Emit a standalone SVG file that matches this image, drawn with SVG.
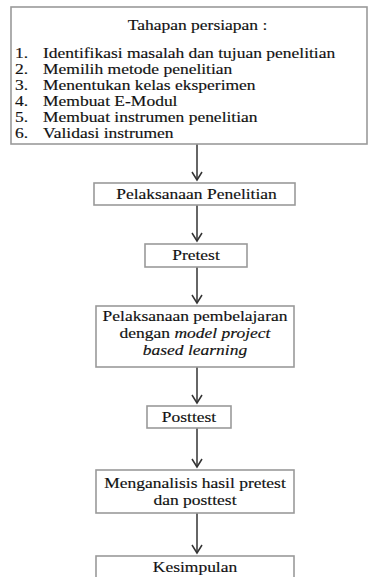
<svg xmlns="http://www.w3.org/2000/svg" width="373" height="577" viewBox="0 0 373 577">
<style>
.box{fill:#fff;stroke:#9a9a9a;stroke-width:1.6}
.t{font-family:"Liberation Serif","Times New Roman",serif;font-size:14px;fill:#111;stroke:#111;stroke-width:0.15}
.c{text-anchor:middle}
.i{font-style:italic}
.con{stroke:#333;stroke-width:1.5;fill:none}
</style>
<defs>
<marker id="ah" markerUnits="userSpaceOnUse" markerWidth="14" markerHeight="14" refX="9" refY="6" orient="auto">
<path d="M1,1 L9,6 L1,11" fill="none" stroke="#333" stroke-width="1.5"/>
</marker>
</defs>
<rect width="373" height="577" fill="#fff"/>
<g id="connectors">
<line class="con" x1="197" y1="144" x2="197" y2="180" marker-end="url(#ah)"/>
<line class="con" x1="197" y1="205" x2="197" y2="241" marker-end="url(#ah)"/>
<line class="con" x1="197" y1="267" x2="197" y2="303" marker-end="url(#ah)"/>
<line class="con" x1="197" y1="367" x2="197" y2="403" marker-end="url(#ah)"/>
<line class="con" x1="197" y1="428" x2="197" y2="467" marker-end="url(#ah)"/>
<line class="con" x1="197" y1="513" x2="197" y2="553" marker-end="url(#ah)"/>
</g>
<g id="persiapan">
<rect class="box" x="11" y="7" width="356" height="137"/>
<g class="t" transform="scale(1.25 1)">
<text class="c" x="158" y="30">Tahapan persiapan :</text>
<text x="12" y="58">1.</text><text x="34.4" y="58">Identifikasi masalah dan tujuan penelitian</text>
<text x="12" y="74">2.</text><text x="34.4" y="74">Memilih metode penelitian</text>
<text x="12" y="90">3.</text><text x="34.4" y="90">Menentukan kelas eksperimen</text>
<text x="12" y="106">4.</text><text x="34.4" y="106">Membuat E-Modul</text>
<text x="12" y="122">5.</text><text x="34.4" y="122">Membuat instrumen penelitian</text>
<text x="12" y="138">6.</text><text x="34.4" y="138">Validasi instrumen</text>
</g>
</g>
<g id="pelaksanaan">
<rect class="box" x="94" y="183" width="201" height="22"/>
<text class="t c" transform="scale(1.25 1)" x="157.2" y="199">Pelaksanaan Penelitian</text>
</g>
<g id="pretest">
<rect class="box" x="145" y="244" width="102" height="23"/>
<text class="t c" transform="scale(1.25 1)" x="156.8" y="260">Pretest</text>
</g>
<g id="pembelajaran">
<rect class="box" x="96" y="306" width="198" height="61"/>
<g class="t c" transform="scale(1.25 1)">
<text x="156" y="321">Pelaksanaan pembelajaran</text>
<text x="156" y="338">dengan <tspan class="i">model project</tspan></text>
<text class="i" x="156" y="355">based learning</text>
</g>
</g>
<g id="posttest">
<rect class="box" x="147" y="406" width="84" height="22"/>
<text class="t c" transform="scale(1.25 1)" x="151.2" y="422">Posttest</text>
</g>
<g id="analisis">
<rect class="box" x="96" y="470" width="198" height="43"/>
<g class="t c" transform="scale(1.25 1)">
<text x="156" y="488">Menganalisis hasil pretest</text>
<text x="156" y="505">dan posttest</text>
</g>
</g>
<g id="kesimpulan">
<rect class="box" x="96" y="556" width="198" height="30"/>
<text class="t c" transform="scale(1.25 1)" x="156" y="572">Kesimpulan</text>
</g>
</svg>
